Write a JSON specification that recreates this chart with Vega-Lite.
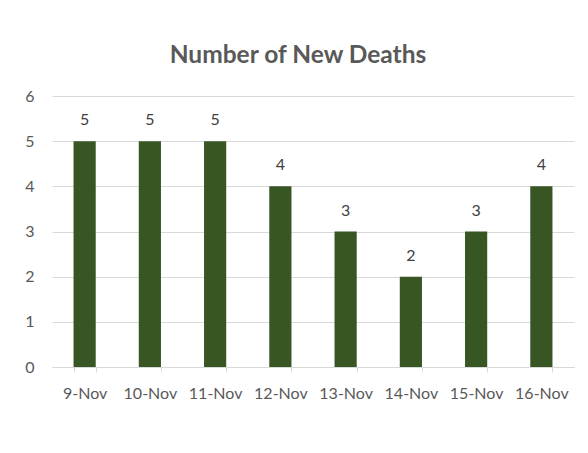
{
  "$schema": "https://vega.github.io/schema/vega-lite/v6.json",
  "autosize": "none",
  "width": 522,
  "height": 271,
  "padding": {"left": 52, "top": 96, "right": 14, "bottom": 86},
  "background": "white",
  "title": {
    "text": "Number of New Deaths",
    "font": "Lato",
    "fontSize": 24.5,
    "fontWeight": "bold",
    "color": "#595959",
    "anchor": "middle",
    "baseline": "alphabetic",
    "dx": -15,
    "dy": 33,
    "offset": 34
  },
  "data": {
    "values": [
      {"date": "9-Nov", "deaths": 5},
      {"date": "10-Nov", "deaths": 5},
      {"date": "11-Nov", "deaths": 5},
      {"date": "12-Nov", "deaths": 4},
      {"date": "13-Nov", "deaths": 3},
      {"date": "14-Nov", "deaths": 2},
      {"date": "15-Nov", "deaths": 3},
      {"date": "16-Nov", "deaths": 4}
    ]
  },
  "encoding": {
    "x": {
      "field": "date",
      "type": "nominal",
      "sort": null,
      "scale": {"paddingInner": 0.66, "paddingOuter": 0.33},
      "axis": {
        "title": null,
        "labelAngle": 0,
        "labelFont": "Lato",
        "labelFontSize": 16,
        "labelColor": "#595959",
        "labelPadding": 13,
        "labelOverlap": false,
        "domainColor": "#d9d9d9",
        "tickColor": "#d9d9d9",
        "tickSize": 5,
        "tickBand": "extent",
        "grid": false
      }
    },
    "y": {
      "field": "deaths",
      "type": "quantitative",
      "scale": {"domain": [0, 6]},
      "axis": {
        "title": null,
        "values": [0, 1, 2, 3, 4, 5, 6],
        "labelFont": "Lato",
        "labelFontSize": 16,
        "labelColor": "#595959",
        "labelPadding": 18,
        "labelOverlap": false,
        "domain": false,
        "ticks": false,
        "gridColor": "#d9d9d9",
        "gridWidth": 1
      }
    }
  },
  "layer": [
    {"mark": {"type": "bar", "color": "#375623"}},
    {
      "mark": {"type": "text", "baseline": "alphabetic", "dy": -16, "font": "Lato", "fontSize": 16, "color": "#404040"},
      "encoding": {"text": {"field": "deaths", "type": "quantitative"}}
    }
  ],
  "config": {"view": {"stroke": null}}
}
